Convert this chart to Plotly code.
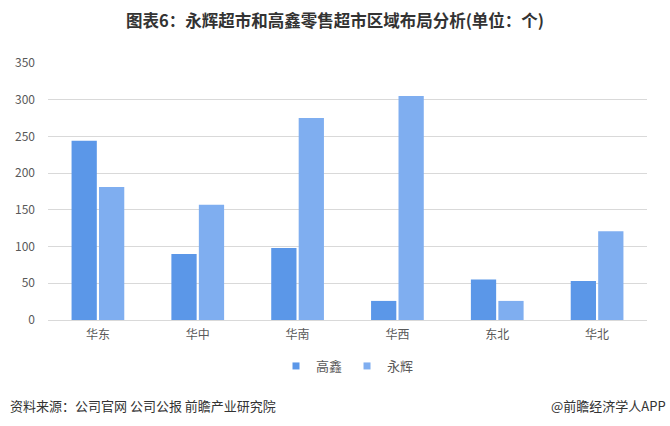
import plotly.graph_objects as go

categories = ["华东", "华中", "华南", "华西", "东北", "华北"]
gaoxin = [244, 90, 98, 26, 55, 53]
yonghui = [181, 157, 275, 305, 26, 121]
y_ticks = [0, 50, 100, 150, 200, 250, 300, 350]

FONT = "Microsoft YaHei, Noto Sans CJK SC, sans-serif"
C1 = "#5B97E8"
C2 = "#7FAEF0"

fig = go.Figure()
fig.add_trace(go.Bar(name="高鑫", x=categories, y=gaoxin, showlegend=False,
                     marker=dict(color=C1, line=dict(width=0))))
fig.add_trace(go.Bar(name="永辉", x=categories, y=yonghui, showlegend=False,
                     marker=dict(color=C2, line=dict(width=0))))
# legend entries with small square swatches
fig.add_trace(go.Scatter(name="高鑫", x=[None], y=[None], mode="markers",
                         marker=dict(symbol="square", size=7, color=C1)))
fig.add_trace(go.Scatter(name="永辉", x=[None], y=[None], mode="markers",
                         marker=dict(symbol="square", size=7, color=C2)))

fig.update_layout(
    width=670, height=426,
    margin=dict(l=48, r=23, t=63, b=106),
    paper_bgcolor="white", plot_bgcolor="white",
    barmode="group", bargap=0.45, bargroupgap=0.08,
    font=dict(family=FONT, color="#595959", size=12),
    title=dict(text="<b>图表6：永辉超市和高鑫零售超市区域布局分析(单位：个)</b>",
               x=0.5, xanchor="center", y=1 - 21 / 426, yanchor="middle",
               yref="container",
               font=dict(family=FONT, size=16.5, color="#333333")),
    showlegend=True,
    legend=dict(orientation="h", x=0.5, xanchor="center", y=(320 - 366) / 257, yanchor="middle",
                font=dict(size=13, color="#595959"), itemwidth=30,
                itemsizing="trace", traceorder="normal", tracegroupgap=0),
    xaxis=dict(showgrid=False, showline=True, linecolor="#D9D9D9", linewidth=1,
               ticks="", ticklabelstandoff=4, tickfont=dict(size=12, color="#595959")),
    yaxis=dict(range=[0, 350], tickvals=y_ticks, showgrid=True,
               gridcolor="#D9D9D9", gridwidth=1, zeroline=False, showline=False,
               ticks="", ticklabelstandoff=12,
               tickfont=dict(size=12, color="#595959")),
)

fig.add_annotation(text="资料来源：公司官网 公司公报 前瞻产业研究院", xref="paper", yref="paper",
                   x=-40 / 599, y=(320 - 405) / 257, xanchor="left", yanchor="middle",
                   showarrow=False, font=dict(family=FONT, size=13, color="#333333"))
fig.add_annotation(text="@前瞻经济学人APP", xref="paper", yref="paper",
                   x=1 + 21 / 599, y=(320 - 405) / 257, xanchor="right", yanchor="middle",
                   showarrow=False, font=dict(family=FONT, size=13, color="#333333"))

fig.write_html("out.html", config={"displayModeBar": False},
               post_script="document.body.style.margin='0';document.body.style.padding='0';")
